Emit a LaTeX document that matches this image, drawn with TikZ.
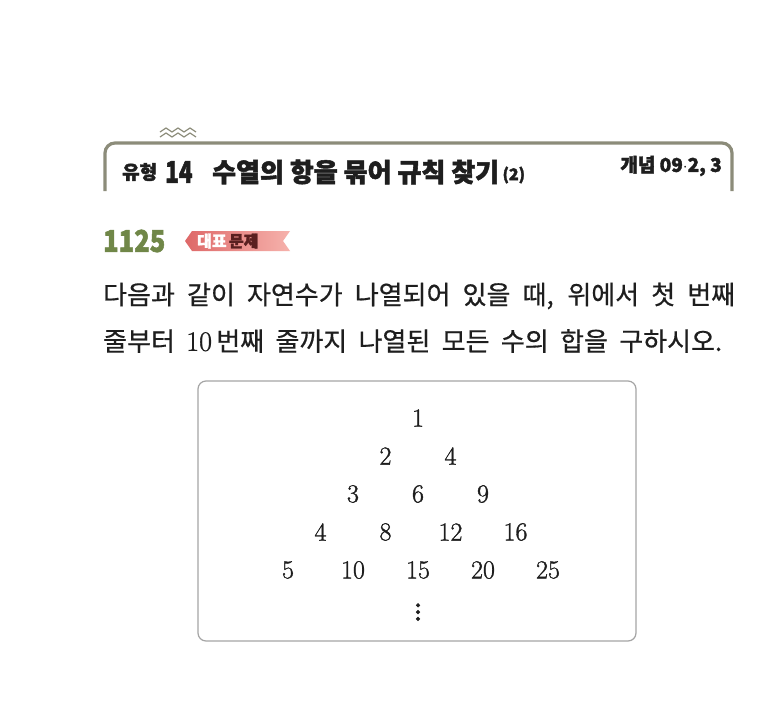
\documentclass[tikz,border=0pt]{standalone}
\usepackage{fontspec}
\usepackage{graphicx}
\newfontfamily\kr[BoldFeatures={FakeBold=2}]{Noto Sans CJK KR}
\newfontfamily\krbody[FakeBold=0.6]{Noto Sans CJK KR}
\newfontfamily\numfont[FakeBold=1.2]{Latin Modern Roman}
\usetikzlibrary{positioning}
\definecolor{framegray}{RGB}{140,140,122}
\definecolor{inkclr}{RGB}{30,30,30}
\definecolor{olivenum}{RGB}{112,135,72}
\definecolor{badgedeep}{RGB}{222,104,104}
\definecolor{badgelight}{RGB}{246,178,172}
\definecolor{badgeink}{RGB}{90,32,32}
\definecolor{boxgray}{RGB}{165,165,165}

\begin{document}
\begin{tikzpicture}[x=1pt, y=-1pt,
    every node/.style={inner sep=0pt, text=inkclr},
    krbold/.style={font=\kr\bfseries\fontsize{#1}{#1}\selectfont},
    body/.style={anchor=west, font=\krbody\fontsize{26}{30}\selectfont},
    numcell/.style={font=\numfont\fontsize{26}{30}\selectfont},
    zigline/.style={draw=framegray, line width=1.2pt},
    frameline/.style={draw=framegray, line width=3.2pt, rounded corners=10pt}]
  \useasboundingbox (0,0) rectangle (768,718);
  \fill[white] (0,0) rectangle (768,718);

  \draw[frameline] (105,191) -- (105,143) -- (732,143) -- (732,191);
  \foreach \dy in {0,5}
    \draw[zigline] (160,{132+\dy}) \foreach \i in {1,...,3} { -- ++(6,-4) -- ++(6,4) };

  \node[krbold=19, anchor=west] (utype) at (122,172) {유형};
  \node[krbold=30, anchor=west] (unum) at (165,172) {\scalebox{0.75}[1]{14}};
  \node[krbold=26, anchor=west] (title) at (212,172) {수열의 항을 묶어 규칙 찾기};
  \node[krbold=16, anchor=west, right=3pt of title, yshift=-3pt] (tpart) {(2)};
  \node[krbold=19, anchor=east] (concept) at (722,166) {개념 09$\cdot$2, 3};

  \node[krbold=30, anchor=west, text=olivenum] (qnum) at (103,241) {\scalebox{0.85}[1]{1125}};
  \path[left color=badgedeep, right color=badgelight]
    (192,231) -- (290,231) -- (283,241) -- (290,251) -- (192,251) -- (185,241) -- cycle;
  \node[krbold=16, anchor=west, text=white] (rep) at (197,241) {대표};
  \node[krbold=16, anchor=west, text=badgeink, right=2pt of rep] (prob) {문제};

  \node[body] (line1) at (103,296)
    {\makebox[632pt][s]{다음과 같이 자연수가 나열되어 있을 때, 위에서 첫 번째}};
  \node[body] (line2) at (103,341)
    {\makebox[619pt][s]{줄부터 {\numfont\fontsize{28}{30}\selectfont 10}\,번째 줄까지 나열된 모든 수의 합을 구하시오.}};

  \draw[boxgray, line width=1.2pt, rounded corners=8pt] (198,381) rectangle (636,641);
  \foreach \n in {1,...,5}
    \foreach \k in {1,...,\n} {
      \pgfmathtruncatemacro\v{\n*\k}
      \node[numcell] (n\n-\k) at ({418+65*(\k-(\n+1)/2)}, {418+38*(\n-1)}) {\v};
    }
  \node[numcell] (dots) at (418,607) {\scalebox{1.7}{$\vdots$}};
\end{tikzpicture}
\end{document}
